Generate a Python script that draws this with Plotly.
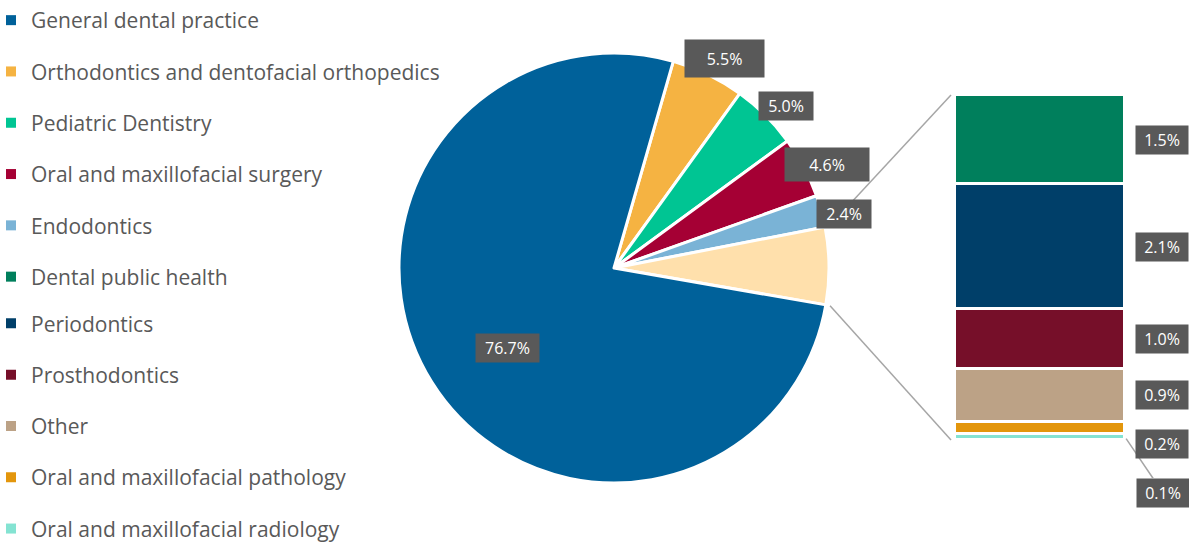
import math
import plotly.graph_objects as go

# ---------------- data ----------------
main_labels = ["General dental practice", "Orthodontics and dentofacial orthopedics",
               "Pediatric Dentistry", "Oral and maxillofacial surgery", "Endodontics"]
main_values = [76.7, 5.5, 5.0, 4.6, 2.4]

detail_labels = ["Dental public health", "Periodontics", "Prosthodontics", "Other",
                 "Oral and maxillofacial pathology", "Oral and maxillofacial radiology"]
detail_values = [1.5, 2.1, 1.0, 0.9, 0.2, 0.1]

# ---------------- style ----------------
main_colors = ["#00619A", "#F5B342", "#00C593", "#A50034", "#7AB3D6"]
detail_colors = ["#007F5C", "#003F69", "#760F29", "#BCA286", "#E3960C", "#84E3D2"]
group_color = "#FFE0AC"
label_bg = "#595959"
text_grey = "#595959"
line_grey = "#A6A6A6"
FONT = "Open Sans"

W, H = 1189, 544
CX, CY, R = 614, 268, 215          # pie centre / radius in px
ROT = 16                           # first slice start, degrees clockwise from 12 o'clock
BAR_L, BAR_R, BAR_T, BAR_B = 955, 1125, 95, 440
LEG_STEP = 51.2                    # px between legend rows

group_total = round(sum(detail_values), 1)

# pie slice order (clockwise): small main slices, grouped slice, then the big one
pie_labels = main_labels[1:] + ["Other specialties"] + main_labels[:1]
pie_values = main_values[1:] + [group_total] + main_values[:1]
pie_colors = main_colors[1:] + [group_color] + main_colors[:1]

fig = go.Figure()

fig.add_trace(go.Pie(
    labels=pie_labels, values=pie_values, sort=False, direction="clockwise",
    rotation=ROT, textinfo="none", showlegend=False,
    marker=dict(colors=pie_colors, line=dict(color="white", width=3)),
    domain=dict(x=[(CX - R) / W, (CX + R) / W], y=[1 - (CY + R) / H, 1 - (CY - R) / H]),
    hovertemplate="%{label}: %{value:.1f}%<extra></extra>",
))

# stacked bar (bottom segment first)
for lab, val, col in reversed(list(zip(detail_labels, detail_values, detail_colors))):
    fig.add_trace(go.Bar(
        x=[0], y=[val], width=1, name=lab, showlegend=False,
        marker=dict(color=col, line=dict(color="white", width=3)),
        hovertemplate=lab + ": %{y:.1f}%<extra></extra>",
    ))

# legend entries (split across two legends so neither needs a scrollbar)
for i, (lab, col) in enumerate(zip(main_labels + detail_labels, main_colors + detail_colors)):
    fig.add_trace(go.Scatter(
        x=[None], y=[None], mode="markers", name=lab, legendgroup=lab,
        legend="legend" if i < 6 else "legend2",
        marker=dict(symbol="square", size=10, color=col),
    ))


def pie_xy(angle_deg, rad_px):
    a = math.radians(angle_deg)
    return (CX + rad_px * math.sin(a)) / W, 1 - (CY - rad_px * math.cos(a)) / H


total = sum(pie_values)
annotations = []
box_sizes = {"5.5%": (73, 31), "4.6%": (78, 27)}
cum = 0.0
for lab, val in zip(pie_labels, pie_values):
    start = ROT + cum / total * 360
    cum += val
    end = ROT + cum / total * 360
    mid = (start + end) / 2
    if lab == "Other specialties":
        continue
    txt = f"{val:.1f}%"
    if lab == main_labels[0]:
        x, y = pie_xy(mid - 5, R * 0.62)
    else:
        x, y = pie_xy(mid + 2, R * 1.1)
    w, h = box_sizes.get(txt, (len(txt) * 9 + 12, 22))
    annotations.append(dict(
        x=x, y=y, xref="paper", yref="paper", xanchor="center", yanchor="middle",
        text=txt, showarrow=False,
        bgcolor=label_bg, font=dict(family=FONT, size=16, color="white"),
        width=w, height=h, borderpad=3,
    ))

# connector lines from grouped slice to the bar
g_start = ROT + sum(pie_values[:4]) / total * 360
g_end = ROT + sum(pie_values[:5]) / total * 360
shapes = []
for ang, ybar in ((g_start, group_total), (g_end, 0)):
    x0, y0 = pie_xy(ang, R * 1.02)
    shapes.append(dict(type="line", xref="paper", yref="paper", x0=x0, y0=y0,
                       x1=(BAR_L - 4) / W, y1=1 - (BAR_T if ybar else BAR_B) / H,
                       line=dict(color=line_grey, width=1.5)))

# bar labels
cum = 0.0
for lab, val in reversed(list(zip(detail_labels, detail_values))):
    centre = cum + val / 2
    cum += val
    txt = f"{val:.1f}%"
    base = dict(text=txt, bgcolor=label_bg, font=dict(family=FONT, size=16, color="white"),
                width=46, height=22, borderpad=3)
    if val < 0.15:
        annotations.append(dict(base, x=0.5, y=centre, xref="x", yref="y", showarrow=True,
                                arrowhead=0, arrowwidth=1.5, arrowcolor=line_grey,
                                ax=38, ay=56, standoff=2))
    elif val < 0.5:
        annotations.append(dict(base, x=1135 / W, y=centre, xref="paper", yref="y",
                                xanchor="left", yanchor="middle", showarrow=False, yshift=-16))
    else:
        annotations.append(dict(base, x=1135 / W, y=centre, xref="paper", yref="y",
                                xanchor="left", yanchor="middle", showarrow=False))

legend_style = dict(xanchor="left", yanchor="top", traceorder="grouped",
                    tracegroupgap=21, bgcolor="rgba(0,0,0,0)",
                    font=dict(family=FONT, size=21, color=text_grey))

fig.update_layout(
    width=W, height=H, margin=dict(l=0, r=0, t=0, b=0, autoexpand=False),
    paper_bgcolor="white", plot_bgcolor="white",
    barmode="stack", bargap=0,
    xaxis=dict(domain=[BAR_L / W, BAR_R / W], range=[-0.5, 0.5], visible=False, fixedrange=True),
    yaxis=dict(domain=[1 - BAR_B / H, 1 - BAR_T / H], range=[0, group_total], visible=False,
               fixedrange=True),
    legend=dict(legend_style, x=-9 / W, y=1.0),
    legend2=dict(legend_style, x=-9 / W, y=1.0 - (6 * LEG_STEP - 4) / H),
    annotations=annotations, shapes=shapes,
    font=dict(family=FONT),
)

fig.write_html("out.html", config={"displayModeBar": False},
               post_script="document.body.style.margin='0px';")
